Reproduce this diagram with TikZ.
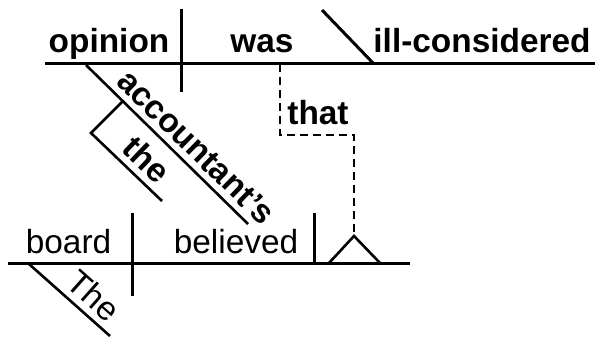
\documentclass[tikz,border=0pt]{standalone}
\usepackage{fontspec}
\setmainfont{Liberation Sans}
\usetikzlibrary{calc}

\begin{document}
\begin{tikzpicture}[x=0.5pt,y=-0.5pt,
    baseline/.style={line width=1.5pt},
    modline/.style={line width=1.3pt},
    word/.style={anchor=base,inner sep=0pt,font=\fontsize{16.7}{20}\selectfont},
    bword/.style={word,font=\fontsize{16.7}{20}\selectfont\bfseries},
    slantword/.style={sloped,above,inner sep=3pt,font=\fontsize{16.7}{20}\selectfont},
    link/.style={line width=1.3pt,dash pattern=on 4pt off 2.5pt}]
\useasboundingbox (0,0) rectangle (597,339);

% main clause
\coordinate (topL) at (45,63);
\coordinate (topR) at (595,63);
\coordinate (subjT) at (181,9);
\coordinate (subjB) at (181,92);
\coordinate (compT) at (322,10);
\coordinate (compB) at (373,63);
\draw[baseline] (topL) -- (topR);
\draw[baseline] (subjT) -- (subjB);
\draw[baseline] (compT) -- (compB);
\node[bword] (opinion) at (109,52) {opinion};
\node[bword] (was) at (262,52) {was};
\node[bword] (illcons) at (482,52) {ill-considered};

\coordinate (accA) at (86,65);
\coordinate (accB) at (248,224);
\draw[modline] (accA) -- (accB)
    node[slantword,pos=0.6,font=\fontsize{16.7}{20}\selectfont\bfseries] (acc) {accountant's};
\coordinate (theJ) at (123,101);
\coordinate (theC) at (91,133);
\coordinate (theE) at (162,201);
\draw[modline] (theJ) -- (theC) -- (theE)
    node[slantword,pos=0.6,font=\fontsize{16.7}{20}\selectfont\bfseries] (the) {the};

% noun clause
\coordinate (thatA) at (280,64);
\coordinate (thatB) at (280,135);
\coordinate (thatC) at (354,135);
\coordinate (apex) at (354,236);
\draw[link] (thatA) -- (thatB) -- (thatC) -- (apex);
\node[bword] (that) at (318,124) {that};

\coordinate (botL) at (8,263);
\coordinate (botR) at (410,263);
\coordinate (bsubjT) at (132,213);
\coordinate (bsubjB) at (132,296);
\coordinate (objT) at (314,213);
\coordinate (objB) at (314,263);
\coordinate (pedL) at (329,263);
\coordinate (pedR) at (380,263);
\draw[baseline] (botL) -- (botR);
\draw[baseline] (bsubjT) -- (bsubjB);
\draw[baseline] (objT) -- (objB);
\draw[modline] (pedL) -- (apex) -- (pedR);
\node[word] (board) at (68.5,253) {board};
\node[word] (believed) at (236,253) {believed};

\coordinate (detA) at (29,264);
\coordinate (detB) at (110,336);
\draw[modline] (detA) -- (detB)
    node[slantword,pos=0.64] (det) {The};
\end{tikzpicture}
\end{document}
